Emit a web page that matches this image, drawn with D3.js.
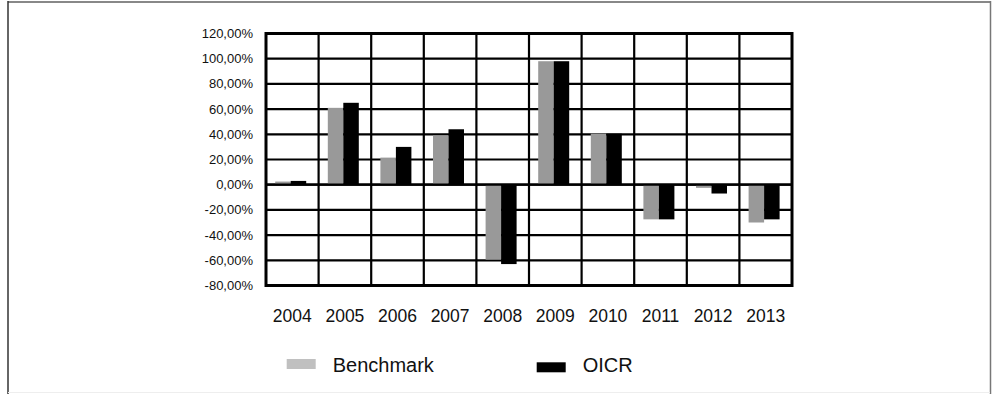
<!DOCTYPE html>
<html>
<head>
<meta charset="utf-8">
<script src="https://cdn.jsdelivr.net/npm/d3@7"></script>
<style>
  html, body { margin: 0; padding: 0; background: #fff; }
  svg { display: block; font-family: "Liberation Sans", Arial, sans-serif; }
</style>
</head>
<body>
<svg id="chart" width="992" height="394"></svg>
<script>
const years = ["2004","2005","2006","2007","2008","2009","2010","2011","2012","2013"];
const seriesNames = ["Benchmark","OICR"];
const benchmark = [2.5, 61, 21.5, 39, -59.5, 98, 40.5, -27.5, -2.5, -30];
const oicr = [3, 65, 30, 44, -63, 98, 40.5, -27.5, -7, -27.5];
const yTicks = [-80, -60, -40, -20, 0, 20, 40, 60, 80, 100, 120];
const barColors = ["#999999", "#000000"];
const legendColors = ["#c0c0c0", "#000000"];

const svg = d3.select("#chart");
const W = 992, H = 394;

// outer frame
svg.append("line").attr("x1", 8).attr("x2", 990).attr("y1", 2).attr("y2", 2)
  .attr("stroke", "#888").attr("stroke-width", 2);
svg.append("line").attr("x1", 8).attr("x2", 8).attr("y1", 1).attr("y2", H)
  .attr("stroke", "#333").attr("stroke-width", 1.5);
svg.append("line").attr("x1", 990.5).attr("x2", 990.5).attr("y1", 1).attr("y2", H)
  .attr("stroke", "#777").attr("stroke-width", 1.5);
svg.append("line").attr("x1", 8).attr("x2", 990).attr("y1", 392.5).attr("y2", 392.5)
  .attr("stroke", "#eee").attr("stroke-width", 1);

const pLeft = 266, pRight = 792, pTop = 33.5, pBottom = 285.5;

const y = d3.scaleLinear().domain([-80, 120]).range([pBottom, pTop]);
const x0 = d3.scaleBand().domain(years).range([pLeft, pRight]).padding(0);
const x1 = d3.scaleBand().domain(seriesNames).range([0, 31]).padding(0);
const groupOffset = 9.2;

const g = svg.append("g");

// horizontal grid lines
g.selectAll("line.hgrid").data(yTicks).join("line")
  .attr("class", "hgrid")
  .attr("x1", pLeft).attr("x2", pRight)
  .attr("y1", d => y(d)).attr("y2", d => y(d))
  .attr("stroke", "#000").attr("stroke-width", 2.2);

// vertical grid lines at category boundaries
g.selectAll("line.vgrid").data(years.slice(1)).join("line")
  .attr("class", "vgrid")
  .attr("x1", d => x0(d)).attr("x2", d => x0(d))
  .attr("y1", pTop).attr("y2", pBottom)
  .attr("stroke", "#000").attr("stroke-width", 2.2);

// bars
const data = years.map((yr, i) => ({ year: yr, values: [benchmark[i], oicr[i]] }));
const groups = g.selectAll("g.grp").data(data).join("g")
  .attr("class", "grp")
  .attr("transform", d => `translate(${x0(d.year) + groupOffset},0)`);
groups.selectAll("rect").data(d => d.values.map((v, k) => ({ v, k }))).join("rect")
  .attr("x", d => x1(seriesNames[d.k]))
  .attr("width", x1.bandwidth())
  .attr("y", d => y(Math.max(0, d.v)))
  .attr("height", d => Math.abs(y(d.v) - y(0)))
  .attr("fill", d => barColors[d.k]);

// zero line on top
g.append("line").attr("x1", pLeft).attr("x2", pRight)
  .attr("y1", y(0)).attr("y2", y(0))
  .attr("stroke", "#000").attr("stroke-width", 2.2);

// plot border
g.append("rect").attr("x", pLeft).attr("y", pTop)
  .attr("width", pRight - pLeft).attr("height", pBottom - pTop)
  .attr("fill", "none").attr("stroke", "#000").attr("stroke-width", 3);

// y axis labels
const fmt = d => d.toFixed(2).replace(".", ",") + "%";
svg.selectAll("text.ylab").data(yTicks).join("text")
  .attr("class", "ylab")
  .attr("x", 253).attr("y", d => y(d))
  .attr("dy", "0.35em")
  .attr("text-anchor", "end")
  .attr("font-size", 13)
  .attr("fill", "#111")
  .text(fmt);

// x axis labels
svg.selectAll("text.xlab").data(years).join("text")
  .attr("class", "xlab")
  .attr("x", d => x0(d) + x0.bandwidth() / 2)
  .attr("y", 321.5)
  .attr("text-anchor", "middle")
  .attr("font-size", 17.5)
  .attr("fill", "#111")
  .text(d => d);

// legend
const legendX = [286.7, 536.7];
const legendSwY = [359, 362.3];
const leg = svg.selectAll("g.leg").data(seriesNames).join("g").attr("class", "leg");
leg.append("rect")
  .attr("x", (d, i) => legendX[i]).attr("y", (d, i) => legendSwY[i])
  .attr("width", 29).attr("height", 10)
  .attr("fill", (d, i) => legendColors[i]);
leg.append("text")
  .attr("x", (d, i) => legendX[i] + 46)
  .attr("y", 371.5)
  .attr("font-size", 20)
  .attr("fill", "#111")
  .text(d => d);
</script>
</body>
</html>
